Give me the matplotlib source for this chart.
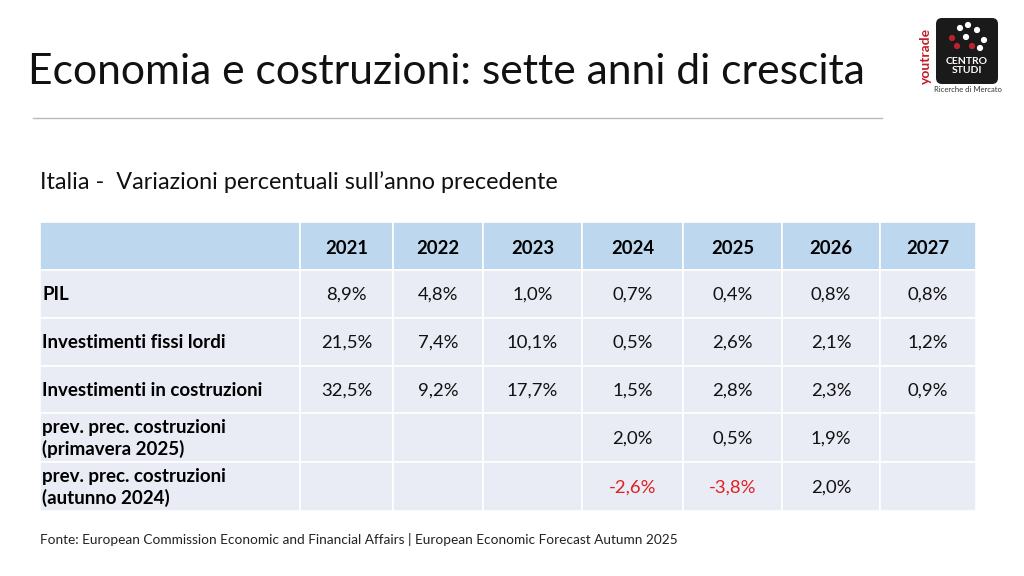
import matplotlib.pyplot as plt
from matplotlib.patches import Rectangle, FancyBboxPatch

plt.rcParams['font.family'] = ['Lato', 'DejaVu Sans']

years = ['2021', '2022', '2023', '2024', '2025', '2026', '2027']
row_labels = ['PIL', 'Investimenti fissi lordi', 'Investimenti in costruzioni',
              'prev. prec. costruzioni\n(primavera 2025)',
              'prev. prec. costruzioni\n(autunno 2024)']
pil = ['8,9%', '4,8%', '1,0%', '0,7%', '0,4%', '0,8%', '0,8%']
inv_fissi = ['21,5%', '7,4%', '10,1%', '0,5%', '2,6%', '2,1%', '1,2%']
inv_costr = ['32,5%', '9,2%', '17,7%', '1,5%', '2,8%', '2,3%', '0,9%']
prev_prim = ['', '', '', '2,0%', '0,5%', '1,9%', '']
prev_aut = ['', '', '', '-2,6%', '-3,8%', '2,0%', '']
rows = [pil, inv_fissi, inv_costr, prev_prim, prev_aut]

col_edges = [40, 300, 393, 483, 582, 683, 782, 880, 976]
row_edges = [222, 270, 318, 366, 413, 462, 511]

fig = plt.figure(figsize=(10.24, 5.76), dpi=100)
ax = fig.add_axes([0, 0, 1, 1])
ax.set_xlim(0, 1024)
ax.set_ylim(576, 0)
ax.axis('off')

ax.text(28, 72, 'Economia e costruzioni: sette anni di crescita', fontsize=30.7,
        va='center', ha='left', color='#111111')
ax.plot([33, 882], [118, 118], color='#bbbbbb', lw=1)
ax.text(40, 182, 'Italia -  Variazioni percentuali sull\u2019anno precedente', fontsize=16.8,
        va='center', ha='left', color='#111111')

# table cells
for r in range(len(row_edges) - 1):
    for c in range(len(col_edges) - 1):
        x0, x1 = col_edges[c], col_edges[c + 1]
        y0, y1 = row_edges[r], row_edges[r + 1]
        color = '#bdd7ee' if r == 0 else '#e9ebf5'
        ax.add_patch(Rectangle((x0, y0), x1 - x0, y1 - y0, facecolor=color,
                               edgecolor='white', lw=1.2))

for c, y in enumerate(years):
    xm = (col_edges[c + 1] + col_edges[c + 2]) / 2
    ax.text(xm, (row_edges[0] + row_edges[1]) / 2 + 2, y, fontsize=13.3, fontweight='bold',
            ha='center', va='center')

for r, (lab, vals) in enumerate(zip(row_labels, rows)):
    ym = (row_edges[r + 1] + row_edges[r + 2]) / 2 + 1
    ax.text(42, ym, lab, fontsize=13.5, fontweight='bold', ha='left', va='center',
            linespacing=1.2)
    for c, v in enumerate(vals):
        xm = (col_edges[c + 1] + col_edges[c + 2]) / 2
        col = '#e02020' if v.startswith('-') else '#111111'
        ax.text(xm, ym, v, fontsize=13.3, ha='center', va='center', color=col)

ax.text(40, 539, 'Fonte: European Commission Economic and Financial Affairs | '
        'European Economic Forecast Autumn 2025', fontsize=9.8, ha='left', va='center',
        color='#222222')

# logo
ax.add_patch(FancyBboxPatch((936, 18), 62, 66, boxstyle='round,pad=0,rounding_size=6',
                            facecolor='#1a1a1a', edgecolor='none'))
ax.text(967, 66, 'CENTRO\nSTUDI', color='white', fontsize=7.5, fontweight='bold',
        ha='center', va='center', linespacing=0.9)
ax.scatter([952, 960, 968, 977, 984, 957, 972, 966, 980], [38, 28, 25, 30, 40, 46, 46, 37, 48],
           s=12, c=['#c0202a', 'white', 'white', 'white', 'white', '#c0202a', '#c0202a',
                    'white', 'white'])
ax.text(926, 56, 'youtrade', rotation=90, color='#c0202a', fontsize=10, fontweight='bold',
        ha='center', va='center')
ax.text(968, 90, 'Ricerche di Mercato', fontsize=5.5, ha='center', va='center', color='#333333')

fig.savefig('out.png', dpi=100)
